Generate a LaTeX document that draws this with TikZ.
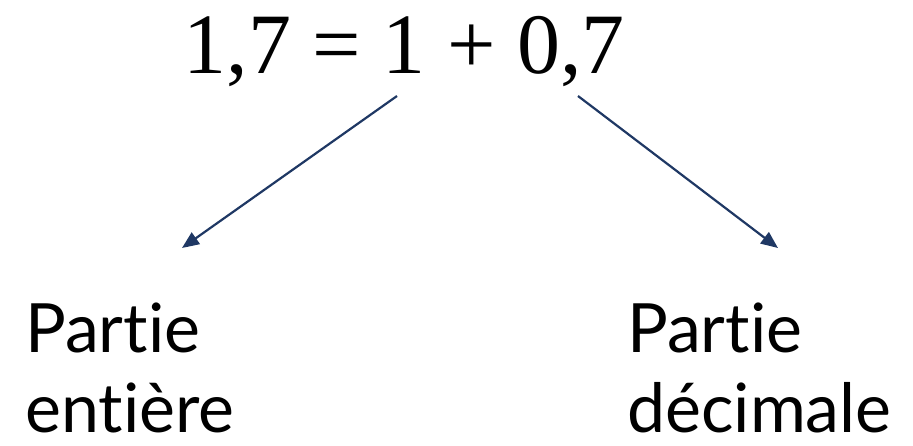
\documentclass[tikz,border=0pt]{standalone}
\usepackage{fontspec}
\setmainfont{Liberation Serif}
\newfontfamily\labelfont[Ligatures={NoCommon}]{Lato}
\usetikzlibrary{arrows.meta}
\definecolor{navy}{HTML}{1F3864}
\tikzset{
  eqtext/.style={font=\fontsize{86}{96}\selectfont, inner sep=0pt, anchor=base},
  labtext/.style={font=\labelfont\fontsize{68}{80}\selectfont, inner sep=0pt, anchor=base west},
  arr/.style={draw=navy, line width=2.2pt, -{Triangle[length=17pt,width=14pt]}}
}
\begin{document}
\begin{tikzpicture}[x=1pt,y=-1pt]
\useasboundingbox (0,0) rectangle (913,445);
\node[eqtext] (eq) at (404,73) {1,7 = 1 + 0,7};
\coordinate (s1) at (397,96);
\coordinate (s2) at (578,96);
\coordinate (e1) at (182,248);
\coordinate (e2) at (778,248);
\node[labtext] (l1) at (25,352) {Partie};
\node[labtext] (l2) at (25,432) {entière};
\node[labtext] (r1) at (627,352) {Partie};
\node[labtext] (r2) at (627,432) {décimale};
\draw[arr] (s1) -- (e1);
\draw[arr] (s2) -- (e2);
\end{tikzpicture}
\end{document}
